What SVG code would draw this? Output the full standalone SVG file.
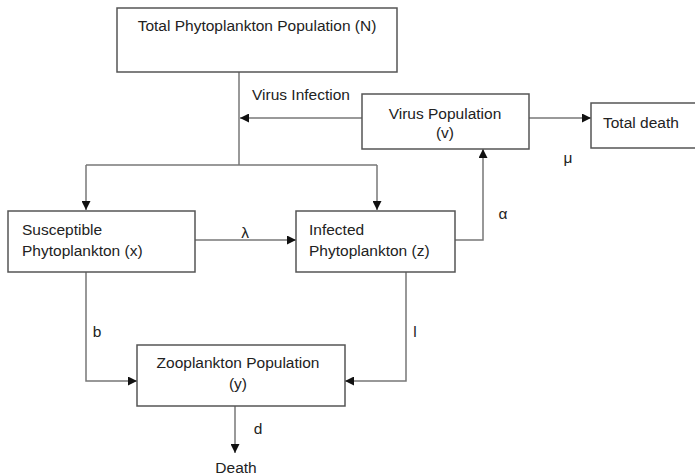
<svg xmlns="http://www.w3.org/2000/svg" width="695" height="476" viewBox="0 0 695 476">
<style>
.box{fill:#fff;stroke:#555;stroke-width:1.5}
.ln{fill:none;stroke:#777;stroke-width:1.5}
text{font-family:"Liberation Sans",Arial,sans-serif;font-size:15.5px;fill:#222}
.c{text-anchor:middle}
</style>
<defs>
<marker id="ah" viewBox="0 0 10 10" refX="10" refY="5" markerWidth="9" markerHeight="9" markerUnits="userSpaceOnUse" orient="auto">
<path d="M0,0 L10,5 L0,10 Z" fill="#111"/>
</marker>
</defs>
<rect width="695" height="476" fill="#fff"/>
<g id="connectors">
<path class="ln" d="M239,72 V165"/>
<path class="ln" d="M86,165 H377"/>
<path class="ln" d="M86,165 V210" marker-end="url(#ah)"/>
<path class="ln" d="M377,165 V210" marker-end="url(#ah)"/>
<path class="ln" d="M362,118 H240" marker-end="url(#ah)"/>
<path class="ln" d="M529,118 H591" marker-end="url(#ah)"/>
<path class="ln" d="M195,240 H296" marker-end="url(#ah)"/>
<path class="ln" d="M455,240 H483 V149" marker-end="url(#ah)"/>
<path class="ln" d="M86,272 V381 H137" marker-end="url(#ah)"/>
<path class="ln" d="M406,272 V381 H345" marker-end="url(#ah)"/>
<path class="ln" d="M235,406 V453" marker-end="url(#ah)"/>
<text x="252" y="100">Virus Infection</text>
<text x="568" y="163" class="c">μ</text>
<text x="245" y="238" class="c">λ</text>
<text x="503" y="219" class="c">α</text>
<text x="97" y="337" class="c">b</text>
<text x="415" y="337" class="c">l</text>
<text x="258" y="434" class="c">d</text>
<text x="236" y="473" class="c">Death</text>
</g>
<g id="total">
<rect class="box" x="117" y="8" width="280" height="64"/>
<text x="257" y="31" class="c">Total Phytoplankton Population (N)</text>
</g>
<g id="virus">
<rect class="box" x="362" y="94" width="167" height="55"/>
<text x="445" y="119" class="c">Virus Population</text>
<text x="445" y="138" class="c">(v)</text>
</g>
<g id="totaldeath">
<rect class="box" x="591" y="103" width="110" height="45"/>
<text x="603" y="128">Total death</text>
</g>
<g id="susceptible">
<rect class="box" x="8" y="211" width="187" height="61"/>
<text x="22" y="235">Susceptible</text>
<text x="22" y="256">Phytoplankton (x)</text>
</g>
<g id="infected">
<rect class="box" x="296" y="211" width="159" height="61"/>
<text x="309" y="235">Infected</text>
<text x="309" y="256">Phytoplankton (z)</text>
</g>
<g id="zooplankton">
<rect class="box" x="137" y="345" width="208" height="61"/>
<text x="238" y="368" class="c">Zooplankton Population</text>
<text x="238" y="389" class="c">(y)</text>
</g>
</svg>
